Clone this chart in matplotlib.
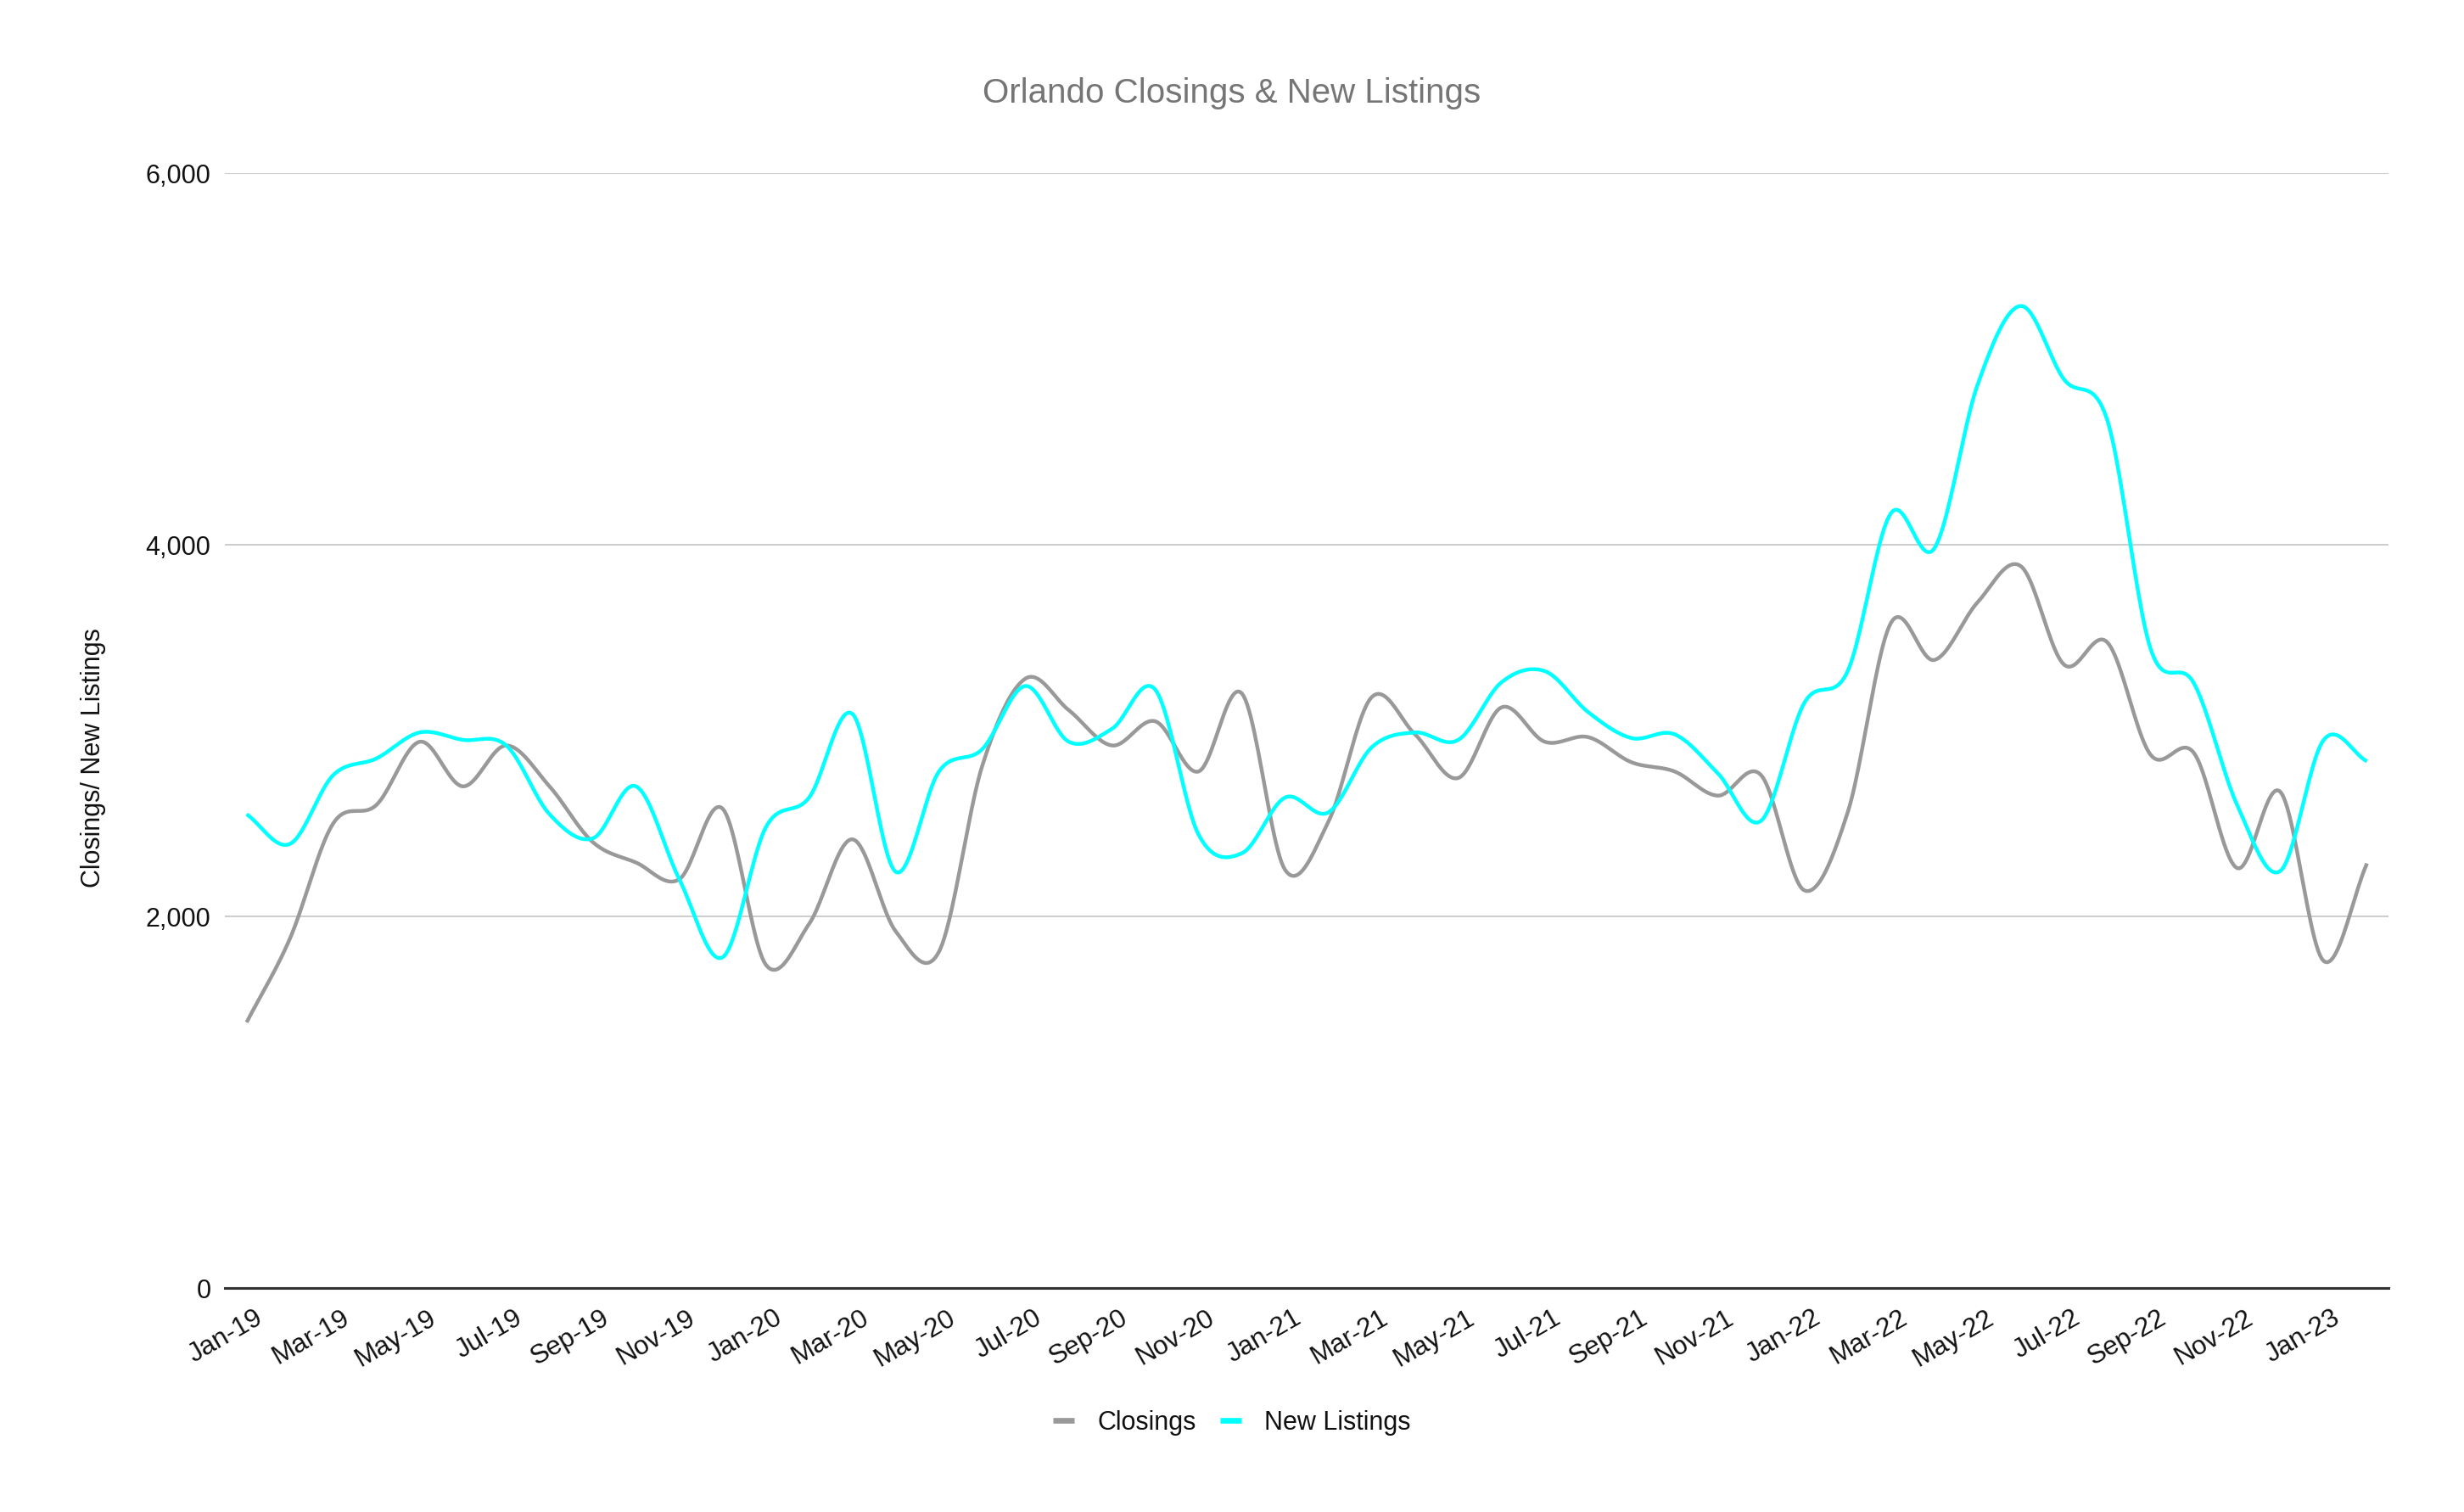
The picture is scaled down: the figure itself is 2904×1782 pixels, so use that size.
import numpy as np
import matplotlib.pyplot as plt
import matplotlib.transforms as mtransforms

plt.rcParams['font.family'] = ['Liberation Sans', 'DejaVu Sans']

# meses (Jan-19 .. Feb-23)
meses = ['Jan-19', 'Feb-19', 'Mar-19', 'Apr-19', 'May-19', 'Jun-19', 'Jul-19', 'Aug-19',
         'Sep-19', 'Oct-19', 'Nov-19', 'Dec-19',
         'Jan-20', 'Feb-20', 'Mar-20', 'Apr-20', 'May-20', 'Jun-20', 'Jul-20', 'Aug-20',
         'Sep-20', 'Oct-20', 'Nov-20', 'Dec-20',
         'Jan-21', 'Feb-21', 'Mar-21', 'Apr-21', 'May-21', 'Jun-21', 'Jul-21', 'Aug-21',
         'Sep-21', 'Oct-21', 'Nov-21', 'Dec-21',
         'Jan-22', 'Feb-22', 'Mar-22', 'Apr-22', 'May-22', 'Jun-22', 'Jul-22', 'Aug-22',
         'Sep-22', 'Oct-22', 'Nov-22', 'Dec-22',
         'Jan-23', 'Feb-23']

closings = [1430, 1880, 2500, 2600, 2940, 2700, 2920, 2700, 2400, 2290, 2200, 2580,
            1740, 1960, 2415, 1920, 1810, 2810, 3280, 3110, 2920, 3050, 2780, 3200,
            2250, 2510, 3180, 2980, 2745, 3125, 2940, 2965, 2830, 2780, 2650, 2760,
            2140, 2560, 3580, 3380, 3690, 3885, 3355, 3475, 2870, 2880, 2260, 2670,
            1760, 2285]

new_listings = [2550, 2390, 2760, 2850, 2990, 2950, 2920, 2550, 2420, 2700, 2200, 1780,
                2480, 2640, 3090, 2240, 2780, 2900, 3240, 2940, 3010, 3220, 2440, 2340,
                2640, 2560, 2910, 2990, 2950, 3260, 3320, 3100, 2960, 2980, 2770, 2515,
                3150, 3320, 4170, 3980, 4860, 5285, 4890, 4670, 3440, 3255, 2600, 2245,
                2950, 2835]


def suavizar(y, n=24):
    # curva suave tipo Catmull-Rom passando pelos pontos
    y = np.asarray(y, dtype=float)
    m = np.empty_like(y)
    m[1:-1] = (y[2:] - y[:-2]) / 2
    m[0] = y[1] - y[0]
    m[-1] = y[-1] - y[-2]
    xs, ys = [], []
    t = np.linspace(0, 1, n, endpoint=False)
    h00 = 2 * t**3 - 3 * t**2 + 1
    h10 = t**3 - 2 * t**2 + t
    h01 = -2 * t**3 + 3 * t**2
    h11 = t**3 - t**2
    for i in range(len(y) - 1):
        xs.append(i + t)
        ys.append(h00 * y[i] + h10 * m[i] + h01 * y[i + 1] + h11 * m[i + 1])
    xs.append([len(y) - 1])
    ys.append([y[-1]])
    return np.concatenate(xs), np.concatenate(ys)


fig = plt.figure(figsize=(14.52, 8.91), dpi=200)
ax = fig.add_axes([0.0913, 0.1481, 0.8781, 0.7374])

x_c, y_c = suavizar(closings)
x_n, y_n = suavizar(new_listings)
ax.plot(x_c, y_c, color='#999999', lw=1.6, label='Closings', solid_capstyle='butt')
ax.plot(x_n, y_n, color='#00ffff', lw=1.6, label='New Listings', solid_capstyle='butt')

ax.set_xlim(-0.5, len(meses) - 0.5)
ax.set_ylim(0, 6000)
ax.set_yticks([0, 2000, 4000, 6000])
ax.set_yticklabels([f'{v:,}' for v in [0, 2000, 4000, 6000]])
ax.grid(axis='y', color='#cccccc', lw=0.7)
ax.set_axisbelow(True)

pos = list(range(0, len(meses), 2))
ax.set_xticks(pos)
ax.set_xticklabels([meses[i] for i in pos], rotation=30, ha='right', va='center',
                   rotation_mode='anchor')
ax.tick_params(axis='both', length=0, labelsize=11, colors='#111111')
ax.tick_params(axis='x', pad=12, labelsize=11.3)
ax.tick_params(axis='y', pad=6)
offset = mtransforms.ScaledTranslation(6 / 72, 0, fig.dpi_scale_trans)
for lbl in ax.get_xticklabels():
    lbl.set_transform(lbl.get_transform() + offset)

for s in ['top', 'right', 'left']:
    ax.spines[s].set_visible(False)
ax.spines['bottom'].set_color('#333333')
ax.spines['bottom'].set_linewidth(1.1)

ax.set_ylabel('Closings/ New Listings', fontsize=11, color='#111111', va='center')
ax.yaxis.set_label_coords(-0.061, 0.476)

fig.text(0.5, 0.938, 'Orlando Closings & New Listings', ha='center', va='center',
         fontsize=14.5, color='#757575')

leg = fig.legend(loc='center', bbox_to_anchor=(0.5, 0.059), ncol=2, frameon=False,
                 fontsize=11, handlelength=0.8, columnspacing=0.95, handletextpad=0.9)
for h in leg.legend_handles:
    h.set_linewidth(2.4)
for t in leg.get_texts():
    t.set_color('#111111')

plt.savefig('out.png', dpi=200)
